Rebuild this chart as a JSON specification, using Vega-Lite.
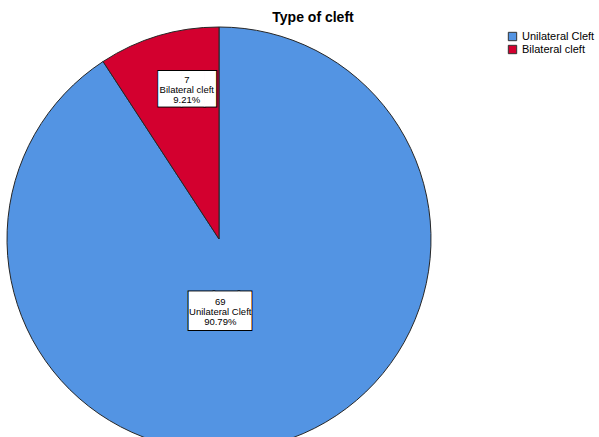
{
  "$schema": "https://vega.github.io/schema/vega-lite/v6.json",
  "width": 424,
  "height": 424,
  "autosize": {"type": "none"},
  "padding": {"left": 7, "top": 27, "right": 168, "bottom": 0},
  "background": "white",
  "title": {"text": "Type of cleft", "font": "Liberation Sans", "fontSize": 14, "fontWeight": "bold", "color": "#000000", "anchor": "middle", "dx": 94, "offset": 0},
  "data": {"values": [
    {"type": "Unilateral Cleft", "count": 69, "pct": "90.79%"},
    {"type": "Bilateral cleft", "count": 7, "pct": "9.21%"}
  ]},
  "transform": [{"calculate": "datum.count + '\\n' + datum.type + '\\n' + datum.pct", "as": "label"}],
  "encoding": {
    "theta": {"field": "count", "type": "quantitative", "stack": true},
    "order": {"field": "count", "type": "quantitative", "sort": "descending"}
  },
  "layer": [
    {
      "mark": {"type": "arc", "stroke": "#262626", "strokeWidth": 1},
      "encoding": {
        "color": {"field": "type", "type": "nominal",
          "scale": {"domain": ["Unilateral Cleft", "Bilateral cleft"], "range": ["#5394E3", "#D3002F"]},
          "legend": {"title": null, "orient": "none", "legendX": 500, "legendY": 4, "symbolType": "square", "symbolSize": 70, "symbolStrokeColor": "#333333", "symbolStrokeWidth": 1, "labelFont": "Liberation Sans", "labelFontSize": 11, "labelColor": "#000000", "labelOffset": 4, "rowPadding": 0, "padding": 0}
        }
      }
    },
    {
      "mark": {"type": "text", "radius": 155, "dx": 18, "font": "DejaVu Sans", "fontSize": 30, "fill": "black", "stroke": "black", "strokeWidth": 2, "align": "center", "baseline": "middle"},
      "encoding": {"text": {"condition": {"test": "datum.type === 'Bilateral cleft'", "value": "██▌"}, "value": ""}}
    },
    {
      "mark": {"type": "text", "radius": 155, "dx": 18, "font": "DejaVu Sans", "fontSize": 30, "fill": "white", "align": "center", "baseline": "middle"},
      "encoding": {"text": {"condition": {"test": "datum.type === 'Bilateral cleft'", "value": "██▌"}, "value": ""}}
    },
    {
      "mark": {"type": "text", "radius": 155, "dx": 12, "dy": -10, "font": "Liberation Sans", "fontSize": 9.5, "lineBreak": "\n", "lineHeight": 10, "color": "#000000", "align": "center", "baseline": "middle"},
      "encoding": {"text": {"condition": {"test": "datum.type === 'Bilateral cleft'", "field": "label"}, "value": ""}}
    },
    {
      "mark": {"type": "text", "radius": 71, "dx": -13, "dy": 5, "font": "DejaVu Sans", "fontSize": 32.5, "fill": "black", "stroke": "black", "strokeWidth": 2, "align": "center", "baseline": "middle"},
      "encoding": {"text": {"condition": {"test": "datum.type === 'Unilateral Cleft'", "value": "██▌"}, "value": ""}}
    },
    {
      "mark": {"type": "text", "radius": 71, "dx": -13, "dy": 5, "font": "DejaVu Sans", "fontSize": 32.5, "fill": "white", "align": "center", "baseline": "middle"},
      "encoding": {"text": {"condition": {"test": "datum.type === 'Unilateral Cleft'", "value": "██▌"}, "value": ""}}
    },
    {
      "mark": {"type": "text", "radius": 71, "dx": -19, "dy": -5, "font": "Liberation Sans", "fontSize": 9.5, "lineBreak": "\n", "lineHeight": 10, "color": "#000000", "align": "center", "baseline": "middle"},
      "encoding": {"text": {"condition": {"test": "datum.type === 'Unilateral Cleft'", "field": "label"}, "value": ""}}
    }
  ]
}
